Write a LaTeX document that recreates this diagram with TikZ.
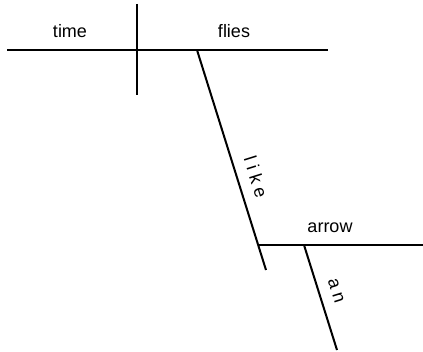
\documentclass[tikz,border=0pt]{standalone}
\usepackage{fontspec}
\setmainfont{Liberation Sans}
\begin{document}
\begin{tikzpicture}[x=1pt,y=-1pt,
  stroke/.style={line width=2pt, line cap=butt},
  word/.style={inner sep=0pt, font=\fontsize{18}{20}\selectfont},
  slantword/.style={word, rotate=-72.6, anchor=center}]
\useasboundingbox (0,0) rectangle (423,352);
\fill[white] (0,0) rectangle (423,352);
% coordinates
\coordinate (mainL) at (7,50);
\coordinate (mainR) at (328,50);
\coordinate (divT) at (137,4);
\coordinate (divB) at (137,95);
\coordinate (likeT) at (197,50);
\coordinate (likeB) at (266,270);
\coordinate (arrL) at (258,245);
\coordinate (arrR) at (423,245);
\coordinate (anT) at (304,245);
\coordinate (anB) at (337,350);
% lines
\draw[stroke] (mainL) -- (mainR);
\draw[stroke] (divT) -- (divB);
\draw[stroke] (likeT) -- (likeB);
\draw[stroke] (arrL) -- (arrR);
\draw[stroke] (anT) -- (anB);
% words
\node[word, anchor=base] (time) at (70,38) {time};
\node[word, anchor=base] (flies) at (234,38) {flies};
\node[word, anchor=base] (arrow) at (330,233) {arrow};
\node[slantword] (like) at (256,177) {l i k e};
\node[slantword] (an) at (336,291) {a n};
\end{tikzpicture}
\end{document}
